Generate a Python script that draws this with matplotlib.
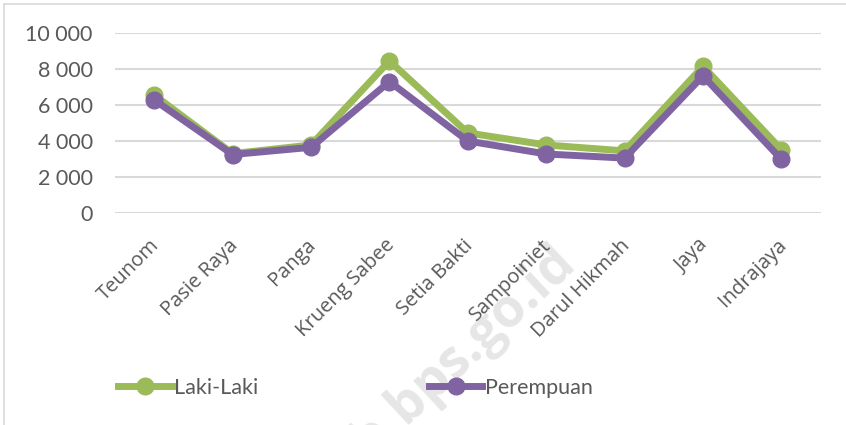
import matplotlib.pyplot as plt
import matplotlib.transforms as mtransforms
from matplotlib.ticker import FuncFormatter
from matplotlib.lines import Line2D

kecamatan = ['Teunom', 'Pasie Raya', 'Panga', 'Krueng Sabee', 'Setia Bakti',
             'Sampoiniet', 'Darul Hikmah', 'Jaya', 'Indrajaya']
laki = [6550, 3300, 3780, 8450, 4450, 3780, 3450, 8150, 3520]
perempuan = [6280, 3250, 3650, 7300, 4000, 3280, 3050, 7620, 2980]

green = '#9BBB59'
purple = '#8064A2'
grey = '#595959'

fig = plt.figure(figsize=(8.46, 4.25), dpi=100)
ax = fig.add_axes([0.136, 0.4988, 0.834, 0.4235])
ax.set_facecolor('none')

# faint watermark
fig.text(0.672, 0.40, 'acehjayakab.bps.go.id', rotation=43, ha='right', va='center',
         fontsize=38, fontweight='bold', color='#e6e6e6', family='Open Sans',
         rotation_mode='anchor', zorder=-1)

x = range(len(kecamatan))
ax.plot(x, laki, color=green, lw=5, marker='o', ms=12, zorder=3)
ax.plot(x, perempuan, color=purple, lw=5, marker='o', ms=12, zorder=4)

ax.set_xlim(-0.5, len(kecamatan) - 0.5)
ax.set_ylim(0, 10000)
ax.set_yticks(range(0, 10001, 2000))
ax.yaxis.set_major_formatter(FuncFormatter(lambda v, p: f'{int(v):,}'.replace(',', ' ')))
ax.grid(axis='y', color='#d9d9d9', lw=1.5)
ax.set_axisbelow(True)
for s in ax.spines.values():
    s.set_visible(False)
ax.tick_params(axis='y', length=0, pad=16, labelsize=15.5, labelcolor=grey)
ax.tick_params(axis='x', length=0, pad=4)
for lab in ax.get_yticklabels():
    lab.set_family('Lato')

ax.set_xticks(list(x))
ax.set_xticklabels(kecamatan, rotation=45, ha='right', va='center',
                   rotation_mode='anchor', fontsize=14.5, color=grey, family='Open Sans')
offset = mtransforms.ScaledTranslation(0.02, -0.24, fig.dpi_scale_trans)
for lab in ax.get_xticklabels():
    lab.set_transform(lab.get_transform() + offset)

handles = [Line2D([], [], color=green, lw=5, marker='o', ms=12),
           Line2D([], [], color=purple, lw=5, marker='o', ms=12)]
fig.legend(handles, ['Laki-Laki', 'Perempuan'], loc='center left',
           bbox_to_anchor=(0.117, 0.088), ncol=2, frameon=False, handlelength=2.5,
           handletextpad=0.1, columnspacing=7.9, prop={'family': 'Lato', 'size': 15.5},
           labelcolor=grey)

# chart frame (top and left edges visible)
fig.add_artist(Line2D([0.005, 1.0], [0.99, 0.99], color='#d9d9d9', lw=1.2))
fig.add_artist(Line2D([0.005, 0.005], [0.0, 0.99], color='#d9d9d9', lw=1.2))

fig.savefig('out.png', dpi=100)
